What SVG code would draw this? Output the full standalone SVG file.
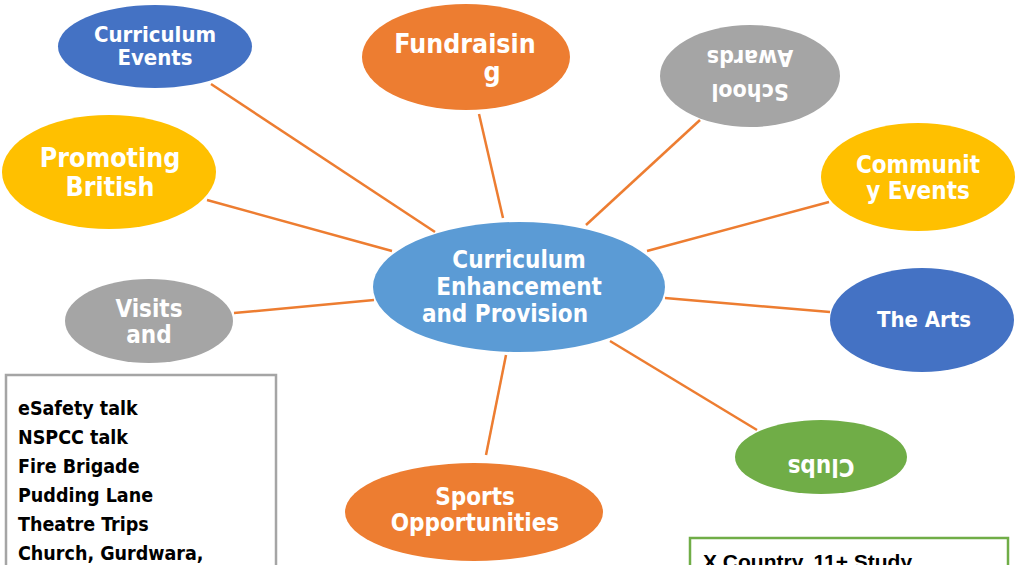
<svg xmlns="http://www.w3.org/2000/svg" width="1016" height="565" viewBox="0 0 1016 565">
<style>
.t{font-family:"DejaVu Sans Condensed","DejaVu Sans",sans-serif;font-weight:bold;fill:#fff;text-anchor:middle}
.c{stroke:#ED7D31;stroke-width:2.5;fill:none}
.bt{font-family:"DejaVu Sans Condensed","DejaVu Sans",sans-serif;font-weight:bold;font-size:19.5px;fill:#000}
</style>
<rect width="1016" height="565" fill="#fff"/>
<g id="connectors">
<line class="c" x1="211" y1="84" x2="435" y2="232"/>
<line class="c" x1="207" y1="200" x2="392" y2="251"/>
<line class="c" x1="479" y1="114" x2="503" y2="218"/>
<line class="c" x1="700" y1="120" x2="586" y2="225"/>
<line class="c" x1="829" y1="202" x2="647" y2="251"/>
<line class="c" x1="830" y1="312" x2="665" y2="298"/>
<line class="c" x1="757" y1="430" x2="610" y2="341"/>
<line class="c" x1="506" y1="355" x2="486" y2="455"/>
<line class="c" x1="234" y1="313" x2="374" y2="300"/>
</g>
<g id="center">
<ellipse cx="519" cy="287" rx="146" ry="65" fill="#5B9BD5"/>
<text class="t" font-size="24" x="519" y="268">Curriculum</text>
<text class="t" font-size="24" x="519" y="295">Enhancement</text>
<text class="t" font-size="24" x="505" y="322">and Provision</text>
</g>
<g id="curriculum-events">
<ellipse cx="155" cy="46.5" rx="97" ry="41.5" fill="#4472C4"/>
<text class="t" font-size="22" x="155" y="42">Curriculum</text>
<text class="t" font-size="22" x="155" y="65">Events</text>
</g>
<g id="promoting-british">
<ellipse cx="109" cy="172" rx="107" ry="57" fill="#FFC000"/>
<text class="t" font-size="26.5" x="110" y="167">Promoting</text>
<text class="t" font-size="26.5" x="110" y="196">British</text>
</g>
<g id="fundraising">
<ellipse cx="466" cy="57" rx="104" ry="53" fill="#ED7D31"/>
<text class="t" font-size="26.5" x="465" y="53">Fundraisin</text>
<text class="t" font-size="26.5" x="492" y="81">g</text>
</g>
<g id="school-awards">
<ellipse cx="750" cy="76" rx="90" ry="51" fill="#A5A5A5"/>
<g transform="rotate(180 750 76)">
<text class="t" font-size="23" x="750" y="68">School</text>
<text class="t" font-size="23" x="750" y="102">Awards</text>
</g>
</g>
<g id="community-events">
<ellipse cx="918" cy="177" rx="97" ry="54" fill="#FFC000"/>
<text class="t" font-size="24" x="918" y="173">Communit</text>
<text class="t" font-size="24" x="918" y="199">y Events</text>
</g>
<g id="the-arts">
<ellipse cx="922" cy="320" rx="92" ry="52" fill="#4472C4"/>
<text class="t" font-size="22" x="924" y="327">The Arts</text>
</g>
<g id="clubs">
<ellipse cx="821" cy="457" rx="86" ry="37" fill="#70AD47"/>
<g transform="rotate(180 821 457)">
<text class="t" font-size="24" x="821" y="455">Clubs</text>
</g>
</g>
<g id="visits">
<ellipse cx="149" cy="321" rx="84" ry="42" fill="#A5A5A5"/>
<text class="t" font-size="24" x="149" y="317">Visits</text>
<text class="t" font-size="24" x="149" y="343">and</text>
</g>
<g id="sports">
<ellipse cx="474" cy="512" rx="129" ry="49" fill="#ED7D31"/>
<text class="t" font-size="24" x="475" y="505">Sports</text>
<text class="t" font-size="24" x="475" y="531">Opportunities</text>
</g>
<g id="visits-box">
<rect x="6" y="375" width="270" height="230" fill="#fff" stroke="#A5A5A5" stroke-width="2.5"/>
<text class="bt" x="18" y="415">eSafety talk</text>
<text class="bt" x="18" y="444">NSPCC talk</text>
<text class="bt" x="18" y="473">Fire Brigade</text>
<text class="bt" x="18" y="502">Pudding Lane</text>
<text class="bt" x="18" y="531">Theatre Trips</text>
<text class="bt" x="18" y="560">Church, Gurdwara,</text>
</g>
<g id="clubs-box">
<rect x="690" y="538" width="318" height="60" fill="#fff" stroke="#70AD47" stroke-width="2.5"/>
<text x="703" y="569" font-family="Liberation Sans, sans-serif" font-weight="bold" font-size="21" fill="#000">X Country, 11+ Study</text>
</g>
</svg>
